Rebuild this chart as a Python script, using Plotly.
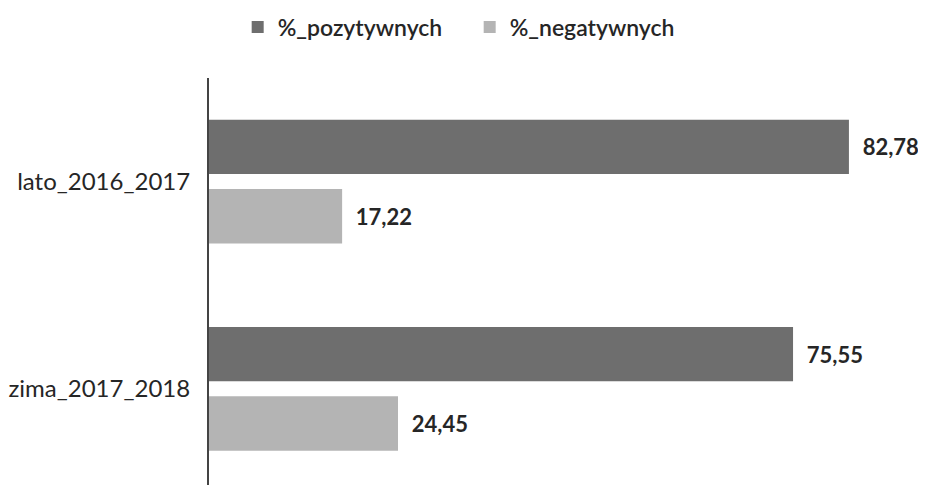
import plotly.graph_objects as go

categories = ["lato_2016_2017", "zima_2017_2018"]
pozytywnych = [82.78, 75.55]
negatywnych = [17.22, 24.45]
series_names = ["%_pozytywnych", "%_negatywnych"]

def fmt(v):
    return "\u00a0\u00a0" + f"{v:.2f}".replace(".", ",")

dark = "#6e6e6e"
light = "#b4b4b4"
font_family = "Lato, 'Open Sans', sans-serif"

# page body has an 8px margin; figure sized to fill the rest of the window
W, H = 918, 477

fig = go.Figure()
fig.add_trace(go.Bar(
    y=categories, x=pozytywnych, orientation="h", name=series_names[0],
    marker=dict(color=dark, line=dict(width=0)),
    text=[fmt(v) for v in pozytywnych], textposition="outside",
    textfont=dict(family=font_family, size=22, color="#262626", weight="bold"),
    cliponaxis=False, constraintext="none",
))
fig.add_trace(go.Bar(
    y=categories, x=negatywnych, orientation="h", name=series_names[1],
    marker=dict(color=light, line=dict(width=0)),
    text=[fmt(v) for v in negatywnych], textposition="outside",
    textfont=dict(family=font_family, size=22, color="#262626", weight="bold"),
    cliponaxis=False, constraintext="none",
))

fig.update_layout(
    width=W, height=H,
    margin=dict(l=201, r=0, t=69.5, b=0, autoexpand=False),
    paper_bgcolor="white", plot_bgcolor="white",
    barmode="group", bargap=0.33, bargroupgap=0.216,
    showlegend=True,
    legend=dict(orientation="h", x=0.04, xanchor="left", y=1 - 19 / H, yanchor="middle",
                yref="container", entrywidth=187, entrywidthmode="pixels",
                font=dict(family=font_family, size=23, color="#262626", weight=600),
                traceorder="normal"),
    font=dict(family=font_family, color="#262626"),
    xaxis=dict(range=[0, 92.75], visible=False, showgrid=False, zeroline=False),
    yaxis=dict(type="category", range=[1.464, -0.5], showline=True, linecolor="#444444",
               linewidth=1.5, ticks="", showgrid=False, automargin=False,
               tickfont=dict(family=font_family, size=24, color="#262626"),
               ticksuffix="\u00a0\u00a0"),
)
fig.update_traces(textangle=0)
fig.write_html("out.html")
